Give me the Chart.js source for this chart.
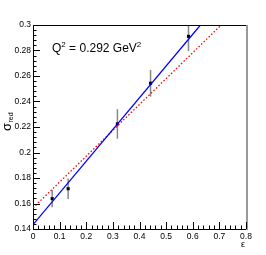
<!DOCTYPE html>
<html>
<head>
<meta charset="utf-8">
<script src="https://cdn.jsdelivr.net/npm/chart.js@4"></script>
<style>
  html, body { margin: 0; padding: 0; background: #fff; }
  #wrap { width: 266px; height: 255px; }
</style>
</head>
<body>
<div id="wrap"><canvas id="c" width="266" height="255"></canvas></div>
<script>
// datos
const epsPts = [0.072, 0.132, 0.317, 0.4415, 0.584];
const sigmaPts = [0.1638, 0.1716, 0.2224, 0.2543, 0.2911];
const sigmaErr = [0.0067, 0.0081, 0.0116, 0.0105, 0.0117];
// rectas de ajuste (extremos)
const fitBlue = [[0, 0.1434], [0.629, 0.3]];
const fitRed = [[0, 0.1565], [0.707, 0.3]];
const xTicks = [0, 0.1, 0.2, 0.3, 0.4, 0.5, 0.6, 0.7, 0.8];
const yTicks = [0.14, 0.16, 0.18, 0.2, 0.22, 0.24, 0.26, 0.28, 0.3];

const font = 'Liberation Sans, Arial, sans-serif';

// barras de error
const errorBars = {
  id: 'errorBars',
  beforeDatasetsDraw(chart) {
    const { ctx, scales: { x, y }, chartArea: a } = chart;
    ctx.save();
    ctx.beginPath();
    ctx.rect(a.left, a.top, a.right - a.left, a.bottom - a.top);
    ctx.clip();
    ctx.strokeStyle = '#888';
    ctx.lineWidth = 1.5;
    epsPts.forEach((e, i) => {
      const px = x.getPixelForValue(e);
      ctx.beginPath();
      ctx.moveTo(px, y.getPixelForValue(sigmaPts[i] - sigmaErr[i]));
      ctx.lineTo(px, y.getPixelForValue(sigmaPts[i] + sigmaErr[i]));
      ctx.stroke();
    });
    ctx.restore();
  }
};

// marco y marcas al estilo ROOT
const frame = {
  id: 'frame',
  afterDraw(chart) {
    const { ctx, scales: { x, y }, chartArea: a } = chart;
    ctx.save();
    ctx.strokeStyle = '#000';
    ctx.lineWidth = 1;
    ctx.beginPath();
    ctx.moveTo(a.left, a.top + 0.5);
    ctx.lineTo(a.right, a.top + 0.5);
    ctx.stroke();
    ctx.strokeStyle = '#999';
    ctx.lineWidth = 2;
    ctx.beginPath();
    ctx.moveTo(a.right + 1, a.top);
    ctx.lineTo(a.right + 1, a.bottom + 1);
    ctx.stroke();

    ctx.strokeStyle = '#000';
    ctx.lineWidth = 1;
    ctx.beginPath();
    for (let i = 0; i <= 40; i++) {
      const px = Math.round(x.getPixelForValue(i * 0.02)) + 0.5;
      const len = i % 5 === 0 ? 7 : 3.5;
      ctx.moveTo(px, a.bottom);
      ctx.lineTo(px, a.bottom - len);
    }
    for (let i = 0; i <= 40; i++) {
      const py = Math.round(y.getPixelForValue(0.14 + i * 0.004)) + 0.5;
      const len = i % 5 === 0 ? 7 : 3.5;
      ctx.moveTo(a.left, py);
      ctx.lineTo(a.left + len, py);
    }
    ctx.stroke();

    // textos
    ctx.fillStyle = '#000';
    ctx.textBaseline = 'alphabetic';
    ctx.textAlign = 'left';
    let tx = 52;
    const ty = 52;
    ctx.font = '12px ' + font;
    ctx.fillText('Q', tx, ty); tx += ctx.measureText('Q').width;
    ctx.font = '8px ' + font;
    ctx.fillText('2', tx, ty - 5); tx += ctx.measureText('2').width;
    ctx.font = '12px ' + font;
    ctx.fillText(' = 0.292 GeV', tx, ty); tx += ctx.measureText(' = 0.292 GeV').width;
    ctx.font = '8px ' + font;
    ctx.fillText('2', tx, ty - 5);

    ctx.save();
    ctx.translate(10.5, 131);
    ctx.rotate(-Math.PI / 2);
    ctx.font = '13px ' + font;
    ctx.fillText('σ', 0, 0);
    const w = ctx.measureText('σ').width;
    ctx.font = '7px ' + font;
    ctx.fillText('red', w + 0.5, 2);
    ctx.restore();

    ctx.font = '9px ' + font;
    ctx.textAlign = 'right';
    ctx.fillText('ε', 245, 247);
    ctx.restore();
  }
};

new Chart(document.getElementById('c'), {
  type: 'scatter',
  data: {
    datasets: [
      {
        label: 'fit azul',
        type: 'line',
        data: fitBlue.map(p => ({ x: p[0], y: p[1] })),
        borderColor: '#0000ff',
        borderWidth: 1.3,
        pointRadius: 0,
        fill: false
      },
      {
        label: 'fit rojo',
        type: 'line',
        data: fitRed.map(p => ({ x: p[0], y: p[1] })),
        borderColor: '#ff0000',
        borderWidth: 1.3,
        borderDash: [1.5, 2],
        pointRadius: 0,
        fill: false
      },
      {
        label: 'datos',
        data: epsPts.map((e, i) => ({ x: e, y: sigmaPts[i] })),
        pointStyle: 'rect',
        pointRadius: 2.2,
        backgroundColor: '#000',
        borderColor: '#000',
        borderWidth: 0
      }
    ]
  },
  options: {
    responsive: false,
    animation: false,
    layout: { padding: { top: 25, right: 20, left: 0, bottom: 0 } },
    plugins: { legend: { display: false }, tooltip: { enabled: false } },
    scales: {
      x: {
        type: 'linear',
        min: 0, max: 0.8,
        afterBuildTicks: s => { s.ticks = xTicks.map(v => ({ value: v })); },
        afterFit: s => { s.height = 26; },
        grid: { display: false, drawTicks: false },
        border: { display: true, color: '#000', width: 1 },
        ticks: {
          padding: 3,
          color: '#000',
          font: { family: font, size: 8.5 },
          maxRotation: 0,
          callback: v => String(+v.toFixed(2))
        }
      },
      y: {
        type: 'linear',
        min: 0.14, max: 0.3,
        afterBuildTicks: s => { s.ticks = yTicks.map(v => ({ value: v })); },
        afterFit: s => { s.width = 33; },
        grid: { display: false, drawTicks: false },
        border: { display: true, color: '#000', width: 1 },
        ticks: {
          padding: 2,
          color: '#000',
          font: { family: font, size: 8.5 },
          callback: v => String(+v.toFixed(3))
        }
      }
    }
  },
  plugins: [errorBars, frame]
});
</script>
</body>
</html>
